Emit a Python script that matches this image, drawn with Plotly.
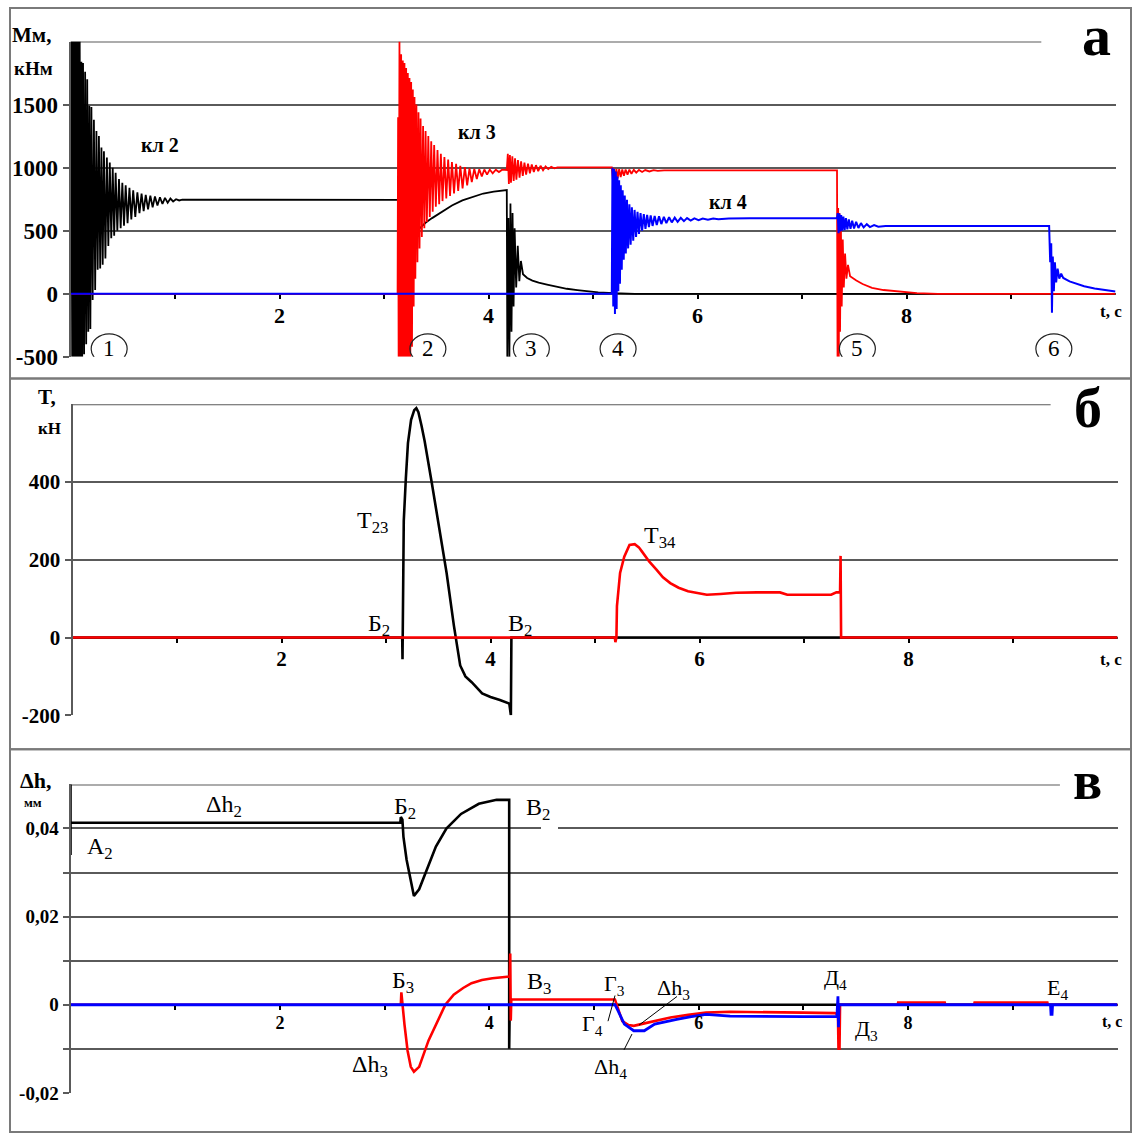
import plotly.graph_objects as go

W, H = 1134, 1137

# ---------------- DATA ----------------
# x ticks (time, s)
X_TICKVALS = [1, 2, 3, 4, 5, 6, 7, 8, 9]
X_TICKTEXT = ["", "2", "", "4", "", "6", "", "8", ""]

# Panel a: clutch torques M, kN*m
A_YTICKS = [-500, 0, 500, 1000, 1500]
A_YTEXT = ["-500", "0", "500", "1000", "1500"]

t_m2 = [0.000, 0.008, 0.016, 0.024, 0.032, 0.040, 0.048, 0.056, 0.064, 0.072, 0.080, 0.088, 0.096,
        0.104, 0.112, 0.120, 0.130, 0.140, 0.150, 0.160, 0.170, 0.180, 0.190, 0.200, 0.212, 0.224,
        0.236, 0.248, 0.260, 0.272, 0.284, 0.296, 0.308, 0.320, 0.334, 0.348, 0.362, 0.376, 0.390,
        0.404, 0.418, 0.432, 0.448, 0.464, 0.480, 0.496, 0.512, 0.528, 0.546, 0.564, 0.582, 0.600,
        0.620, 0.640, 0.660, 0.680, 0.700, 0.720, 0.742, 0.764, 0.786, 0.808, 0.832, 0.856, 0.880,
        0.904, 0.930, 0.956, 0.982, 1.010, 1.040, 1.070, 3.140, 3.155, 3.200, 3.260, 3.330, 3.400,
        3.460, 3.550, 3.650, 3.750, 3.850, 3.950, 4.050, 4.160, 4.175, 4.180, 4.190, 4.200, 4.210,
        4.220, 4.230, 4.240, 4.250, 4.265, 4.280, 4.295, 4.310, 4.330, 4.370, 4.420, 4.480, 4.560,
        4.650, 4.750, 4.850, 4.940, 5.050, 5.200, 5.400, 10.00]
m2 = [0, 2000, -500, 2000, -500, 2000, -500, 2000, -500, 2000, -500, 2000, -500,
      1840, -500, 1830, -480, 1760, -400, 1700, -300, 1490, -280, 1480, -50, 1380,
      30, 1290, 190, 1250, 200, 1160, 230, 1130, 280, 1080, 380, 1040, 440,
      1000, 460, 960, 500, 910, 520, 880, 540, 860, 560, 840, 590, 820,
      610, 805, 640, 795, 655, 785, 670, 778, 685, 772, 700, 765, 712,
      760, 722, 755, 732, 750, 740, 746, 745, 150, 300, 420, 510, 565,
      600, 650, 700, 740, 770, 795, 810, 822, 822, -500, 600, -500, 715,
      -300, 640, -100, 520, 50, 380, 100, 260, 155, 125, 105, 88, 73,
      55, 40, 30, 21, 12, 5, 0, 0]

t_m3 = [0.000, 3.130, 3.135, 3.140, 3.148, 3.156, 3.164, 3.172, 3.180, 3.188, 3.196, 3.204, 3.212,
        3.220, 3.228, 3.236, 3.244, 3.252, 3.260, 3.268, 3.276, 3.284, 3.292, 3.300, 3.310, 3.320,
        3.330, 3.340, 3.350, 3.362, 3.374, 3.386, 3.398, 3.410, 3.424, 3.438, 3.452, 3.466, 3.480,
        3.496, 3.512, 3.528, 3.544, 3.560, 3.578, 3.596, 3.614, 3.632, 3.650, 3.670, 3.690, 3.710,
        3.730, 3.752, 3.774, 3.796, 3.818, 3.840, 3.864, 3.888, 3.912, 3.936, 3.960, 3.986, 4.012,
        4.040, 4.070, 4.100, 4.130, 4.175, 4.185, 4.195, 4.205, 4.215, 4.228, 4.241, 4.254, 4.267,
        4.282, 4.297, 4.312, 4.328, 4.344, 4.360, 4.378, 4.396, 4.414, 4.434, 4.454, 4.476, 4.498,
        4.522, 4.546, 4.572, 4.600, 4.630, 4.660, 4.700, 5.180, 5.190, 5.200, 5.212, 5.224, 5.236,
        5.250, 5.265, 5.280, 5.296, 5.312, 5.330, 5.348, 5.368, 5.390, 5.414, 5.440, 5.470, 5.500,
        5.540, 5.580, 5.620, 5.680, 7.335, 7.340, 7.346, 7.352, 7.358, 7.364, 7.372, 7.380, 7.390,
        7.400, 7.412, 7.425, 7.440, 7.460, 7.480, 7.520, 7.580, 7.670, 7.780, 7.930, 8.100, 8.300,
        10.00]
m3 = [0, 0, 1400, -500, 2000, -500, 1900, -500, 1850, -500, 1830, -500, 1790,
      -500, 1750, -500, 1710, -500, 1680, -420, 1620, -100, 1560, 120, 1500, 250,
      1440, 360, 1390, 450, 1330, 520, 1290, 570, 1250, 610, 1210, 650, 1180,
      690, 1140, 710, 1110, 735, 1085, 755, 1065, 775, 1045, 795, 1030, 815,
      1015, 835, 1005, 860, 995, 885, 990, 910, 988, 930, 986, 945, 985,
      955, 984, 965, 984, 982, 1110, 870, 1100, 880, 1090, 895, 1075, 905,
      1060, 920, 1050, 935, 1040, 945, 1032, 955, 1025, 965, 1020, 972, 1015,
      980, 1010, 988, 1006, 995, 1003, 1002, 1002, 900, 995, 905, 990, 915,
      988, 925, 986, 935, 985, 945, 984, 952, 983, 960, 982, 966, 981,
      970, 980, 975, 979, 979, -500, 680, -500, 640, -300, 560, -100, 430,
      50, 320, 120, 230, 140, 126, 105, 78, 47, 30, 16, 6, 0,
      0]

t_m4 = [0.000, 5.180, 5.186, 5.194, 5.202, 5.210, 5.218, 5.226, 5.234, 5.242, 5.250, 5.258, 5.266,
        5.275, 5.284, 5.294, 5.304, 5.314, 5.325, 5.336, 5.348, 5.360, 5.372, 5.385, 5.398, 5.412,
        5.426, 5.440, 5.455, 5.470, 5.486, 5.502, 5.518, 5.535, 5.552, 5.570, 5.590, 5.610, 5.632,
        5.654, 5.678, 5.702, 5.728, 5.754, 5.782, 5.810, 5.840, 5.870, 5.900, 5.935, 5.970, 6.010,
        6.050, 6.100, 6.150, 6.200, 6.300, 6.500, 7.335, 7.342, 7.350, 7.358, 7.366, 7.375, 7.385,
        7.396, 7.408, 7.420, 7.434, 7.448, 7.464, 7.480, 7.498, 7.518, 7.540, 7.564, 7.590, 7.620,
        7.650, 7.690, 7.730, 7.800, 9.365, 9.375, 9.385, 9.392, 9.400, 9.410, 9.420, 9.432, 9.446,
        9.462, 9.480, 9.500, 9.560, 9.630, 9.700, 9.800, 9.900, 10.00]
m4 = [0, 0, 1000, -100, 990, -160, 970, -120, 930, 20, 900, 80, 860,
      190, 820, 270, 780, 320, 745, 360, 710, 390, 685, 420, 665, 450,
      650, 475, 640, 500, 632, 515, 626, 528, 622, 538, 618, 546, 614,
      553, 610, 560, 607, 566, 604, 571, 602, 576, 600, 580, 598, 584,
      597, 588, 597, 592, 596, 598, 598, 640, 480, 637, 495, 625, 500,
      612, 505, 600, 510, 590, 515, 580, 518, 570, 522, 560, 526, 552,
      529, 545, 532, 537, 537, 250, 400, -150, 296, 20, 250, 90, 200,
      120, 160, 126, 98, 78, 60, 42, 28, 18]

# Panel b: forces T, kN
B_YTICKS = [-200, 0, 200, 400]
B_YTEXT = ["-200", "0", "200", "400"]
t_T23 = [0.000, 3.155, 3.158, 3.162, 3.170, 3.190, 3.210, 3.240, 3.270, 3.290, 3.310, 3.340, 3.370,
         3.440, 3.510, 3.580, 3.650, 3.710, 3.760, 3.820, 3.920, 4.000, 4.090, 4.180, 4.195, 4.200,
         10.00]
T23 = [0, 0, -56, 70, 300, 410, 500, 560, 585, 590, 580, 545, 505,
       395, 276, 166, 30, -72, -100, -115, -144, -153, -161, -170, -200, 0,
       0]
t_T34 = [0.000, 5.190, 5.195, 5.205, 5.210, 5.240, 5.280, 5.330, 5.380, 5.420, 5.450, 5.520, 5.590,
         5.650, 5.720, 5.800, 5.890, 5.980, 6.070, 6.200, 6.350, 6.550, 6.770, 6.840, 7.100, 7.260,
         7.310, 7.345, 7.350, 7.355, 10.00]
T34 = [0, 0, -12, 0, 81, 166, 208, 238, 240, 232, 221, 195, 174,
       155, 140, 128, 119, 114, 110, 112, 115, 116, 116, 110, 110, 110,
       116, 116, 210, 0, 0]

# Panel v: displacements dh, mm
C_YTICKS = [-0.02, -0.01, 0.0, 0.01, 0.02, 0.03, 0.04]
C_YTEXT = ["-0,02", "", "0", "", "0,02", "", "0,04"]
t_dh2 = [0.000, 0.000, 0.000, 3.150, 3.155, 3.170, 3.180, 3.210, 3.250, 3.280, 3.330, 3.400, 3.490,
         3.590, 3.730, 3.900, 4.070, 4.170, 4.190, 4.190, 4.195, 10.00]
dh2 = [0.034, 0.0503, 0.0413, 0.0413, 0.0426, 0.042, 0.0381, 0.0329, 0.0277, 0.0247, 0.0262, 0.0306, 0.0359,
       0.0400, 0.0433, 0.0456, 0.0465, 0.0465, 0.0465, -0.0100, 0.0, 0.0]
t_dh3 = [0.000, 3.155, 3.160, 3.170, 3.190, 3.220, 3.250, 3.280, 3.330, 3.420, 3.520, 3.580, 3.660,
         3.750, 3.830, 3.930, 4.030, 4.170, 4.195, 4.200, 4.205, 4.210, 5.200, 5.230, 5.270, 5.330,
         5.380, 5.450, 5.520, 5.620, 5.730, 5.900, 6.070, 6.300, 6.500, 6.800, 7.000, 7.300, 7.330,
         7.335, 7.345, 7.350, 7.900, 7.905, 8.350, 8.355, 8.630, 8.635, 9.330, 9.335, 10.00]
dh3 = [0.0, 0.0, 0.0028, 0.0, -0.0045, -0.0105, -0.0141, -0.0152, -0.0141, -0.0081, -0.0029, 0.0, 0.0023,
       0.0038, 0.0049, 0.0056, 0.0060, 0.0064, 0.0064, 0.0116, -0.0036, 0.0012, 0.0012, -0.0010, -0.0037, -0.0046,
       -0.0048, -0.0044, -0.0040, -0.0034, -0.0029, -0.0023, -0.0018, -0.0016, -0.0017, -0.0018, -0.0018, -0.0019, -0.0022,
       -0.0100, -0.0100, 0.0, 0.0, 0.0005, 0.0005, 0.0, 0.0, 0.0005, 0.0005, 0.0, 0.0]
t_dh4 = [0.000, 5.200, 5.230, 5.290, 5.380, 5.480, 5.580, 5.680, 5.790, 5.930, 6.070, 6.300, 6.600,
         7.000, 7.320, 7.330, 7.335, 7.340, 9.360, 9.365, 9.375, 9.380, 10.00]
dh4 = [0.0, 0.0, -0.0014, -0.0044, -0.0059, -0.0059, -0.0044, -0.0038, -0.0033, -0.0027, -0.0022, -0.0026, -0.0027,
       -0.0027, -0.0027, 0.0019, -0.0051, 0.0, 0.0, -0.0022, -0.0022, 0.0, 0.0]

# clutch switching events (circled numbers in panel a)
EVENT_LABELS = ["1", "2", "3", "4", "5", "6"]
EVENT_TIMES = [0.37, 3.42, 4.41, 5.24, 7.53, 9.41]

# ---------------- LAYOUT HELPERS ----------------
SERIF = "Liberation Serif, Times New Roman, serif"
GRID = "#5a5a5a"
BLACK, RED, BLUE = "#000000", "#ff0000", "#0000ff"


def PX(x):
    return x / W


def PY(y):
    return 1 - y / H


# pixel geometry of the three panels
PA = dict(x0=70.5, x1=1115.5, yb=361.0, yt=42.0, lo=-500, hi=2000)
PB = dict(x0=72.5, x1=1117.5, yb=723.5, yt=409.0, lo=-200, hi=600)
PC = dict(x0=70.5, x1=1117.5, yb=1105.5, yt=793.5, lo=-0.02, hi=0.05)


def zero_pos(p):
    ypix = p["yb"] - (0 - p["lo"]) / (p["hi"] - p["lo"]) * (p["yb"] - p["yt"])
    return PY(ypix)


def xaxis_for(p, size):
    return dict(domain=[PX(p["x0"]), PX(p["x1"])], range=[0, 10], anchor="free",
                position=zero_pos(p), showgrid=False, zeroline=False, showline=False,
                ticks="outside", ticklen=4, tickwidth=1.5, tickcolor="black",
                tickvals=X_TICKVALS, ticktext=X_TICKTEXT, ticklabelstandoff=-2,
                tickfont=dict(family=SERIF, size=size, color="black", weight="bold"),
                fixedrange=True)


def yaxis_for(p, anchor, vals, text, size):
    return dict(domain=[PY(p["yb"]), PY(p["yt"])], range=[p["lo"], p["hi"]], anchor=anchor,
                showgrid=True, gridcolor=GRID, gridwidth=2, zeroline=False,
                showline=True, linecolor=GRID, linewidth=2,
                ticks="outside", ticklen=6, tickwidth=2, tickcolor=GRID,
                tickvals=vals, ticktext=text,
                tickfont=dict(family=SERIF, size=size, color="black", weight="bold"),
                fixedrange=True)


fig = go.Figure()


def line(x, y, color, width, xa, ya):
    fig.add_trace(go.Scatter(x=x, y=y, mode="lines", line=dict(color=color, width=width),
                             xaxis=xa, yaxis=ya, showlegend=False, hoverinfo="skip"))


# panel a
line(t_m2, m2, BLACK, 1.8, "x", "y")
line(t_m3, m3, RED, 1.8, "x", "y")
line(t_m4, m4, BLUE, 2.0, "x", "y")
# panel b
line(t_T23, T23, BLACK, 2.6, "x2", "y2")
line(t_T34, T34, RED, 2.6, "x2", "y2")
# panel v
line(t_dh2, dh2, BLACK, 2.6, "x3", "y3")
line(t_dh3, dh3, RED, 2.6, "x3", "y3")
line(t_dh4, dh4, BLUE, 2.8, "x3", "y3")

annotations = []


def ann(text, x, y, size, bold=False, xanchor="center", yanchor="middle", bg=None):
    d = dict(text=text, x=PX(x), y=PY(y), xref="paper", yref="paper", showarrow=False,
             xanchor=xanchor, yanchor=yanchor,
             font=dict(family=SERIF, size=size, color="black", weight="bold" if bold else "normal"))
    if bg:
        d["bgcolor"] = bg
    annotations.append(d)


# panel a labels
ann("Мм,", 10, 35, 21, True, xanchor="left")
ann("кНм", 12, 69, 19, True, xanchor="left")
ann("кл 2", 160, 147, 20, True)
ann("кл 3", 477, 134, 20, True)
ann("кл 4", 728, 204, 20, True)
ann("а", 1096, 36, 58, True)
ann("t, c", 1111, 315, 17, True)
for lab, t in zip(EVENT_LABELS, EVENT_TIMES):
    annotations.append(dict(text=lab, x=t, y=-437, xref="x", yref="y", showarrow=False,
                            font=dict(family=SERIF, size=23, color="black")))

# panel b labels
ann("T,", 36, 402, 21, True, xanchor="left")
ann("кН", 36, 433, 17, True, xanchor="left")
ann("T<sub>23</sub>", 372, 528, 24)
ann("Б<sub>2</sub>", 379, 632, 24)
ann("В<sub>2</sub>", 520, 632, 24)
ann("T<sub>34</sub>", 660, 543, 24)
ann("б", 1088, 413, 56, True)
ann("t, c", 1111, 667, 17, True)

# panel v labels
ann("Δh,", 18, 790, 22, True, xanchor="left")
ann("мм", 22, 812, 13, True, xanchor="left")
ann("Δh<sub>2</sub>", 224, 815, 24)
ann("Б<sub>2</sub>", 405, 817, 24)
ann("В<sub>2</sub>", 538, 818, 24)
ann("А<sub>2</sub>", 100, 858, 24)
ann("Б<sub>3</sub>", 403, 993, 24)
ann("В<sub>3</sub>", 539, 994, 24)
ann("Δh<sub>3</sub>", 370, 1078, 24)
ann("Г<sub>3</sub>", 614, 996, 22)
ann("Δh<sub>3</sub>", 673, 1000, 22)
ann("Г<sub>4</sub>", 592, 1037, 22)
ann("Δh<sub>4</sub>", 610, 1080, 22)
ann("Д<sub>4</sub>", 835, 990, 22)
ann("Д<sub>3</sub>", 866, 1042, 22)
ann("Е<sub>4</sub>", 1057, 1000, 22)
ann("в", 1087, 790, 54, True)
ann("t, c", 1112, 1033, 16, True)

shapes = []
# panel frames
for y0, y1 in [(8, 383), (383, 758), (758, 1145)]:
    shapes.append(dict(type="rect", xref="paper", yref="paper", x0=PX(10), x1=PX(1131),
                       y0=PY(y1), y1=PY(y0), line=dict(color="#7a7a7a", width=2), layer="below"))
# top grid lines (stop before the panel letters)
shapes.append(dict(type="line", xref="x", yref="y", x0=0, x1=9.29, y0=2000, y1=2000,
                   line=dict(color=GRID, width=2), layer="below"))
shapes.append(dict(type="line", xref="x2", yref="y2", x0=0, x1=9.36, y0=600, y1=600,
                   line=dict(color=GRID, width=2), layer="below"))
shapes.append(dict(type="line", xref="x3", yref="y3", x0=0, x1=9.45, y0=0.05, y1=0.05,
                   line=dict(color=GRID, width=2), layer="below"))
# gap in the 0,04 grid line next to label B2
shapes.append(dict(type="rect", xref="paper", yref="paper", x0=PX(541), x1=PX(558),
                   y0=PY(839), y1=PY(831), line=dict(width=0), fillcolor="white"))
# circled event numbers
for t in EVENT_TIMES:
    shapes.append(dict(type="circle", xref="x", yref="y", xsizemode="pixel", ysizemode="pixel",
                       xanchor=t, yanchor=-437, x0=-18, x1=18, y0=-15, y1=15,
                       line=dict(color="#222222", width=1.2)))
# leader lines in panel v
for (x0, y0, x1, y1) in [(615, 1007, 608, 1033), (677, 1008, 639, 1037), (624, 1062, 632, 1046)]:
    shapes.append(dict(type="line", xref="paper", yref="paper", x0=PX(x0), y0=PY(y0),
                       x1=PX(x1), y1=PY(y1), line=dict(color="black", width=1)))

fig.update_layout(
    width=W, height=H, margin=dict(l=0, r=0, t=0, b=0),
    paper_bgcolor="white", plot_bgcolor="white", showlegend=False,
    xaxis=xaxis_for(PA, 22),
    yaxis=yaxis_for(PA, "x", A_YTICKS, A_YTEXT, 23),
    xaxis2=xaxis_for(PB, 21),
    yaxis2=yaxis_for(PB, "x2", B_YTICKS, B_YTEXT, 21),
    xaxis3=xaxis_for(PC, 18),
    yaxis3=yaxis_for(PC, "x3", C_YTICKS, C_YTEXT, 19),
    annotations=annotations, shapes=shapes,
)

fig.write_html("out.html", config={"displayModeBar": False},
               post_script="document.body.style.margin='0';document.body.style.overflow='hidden';")
